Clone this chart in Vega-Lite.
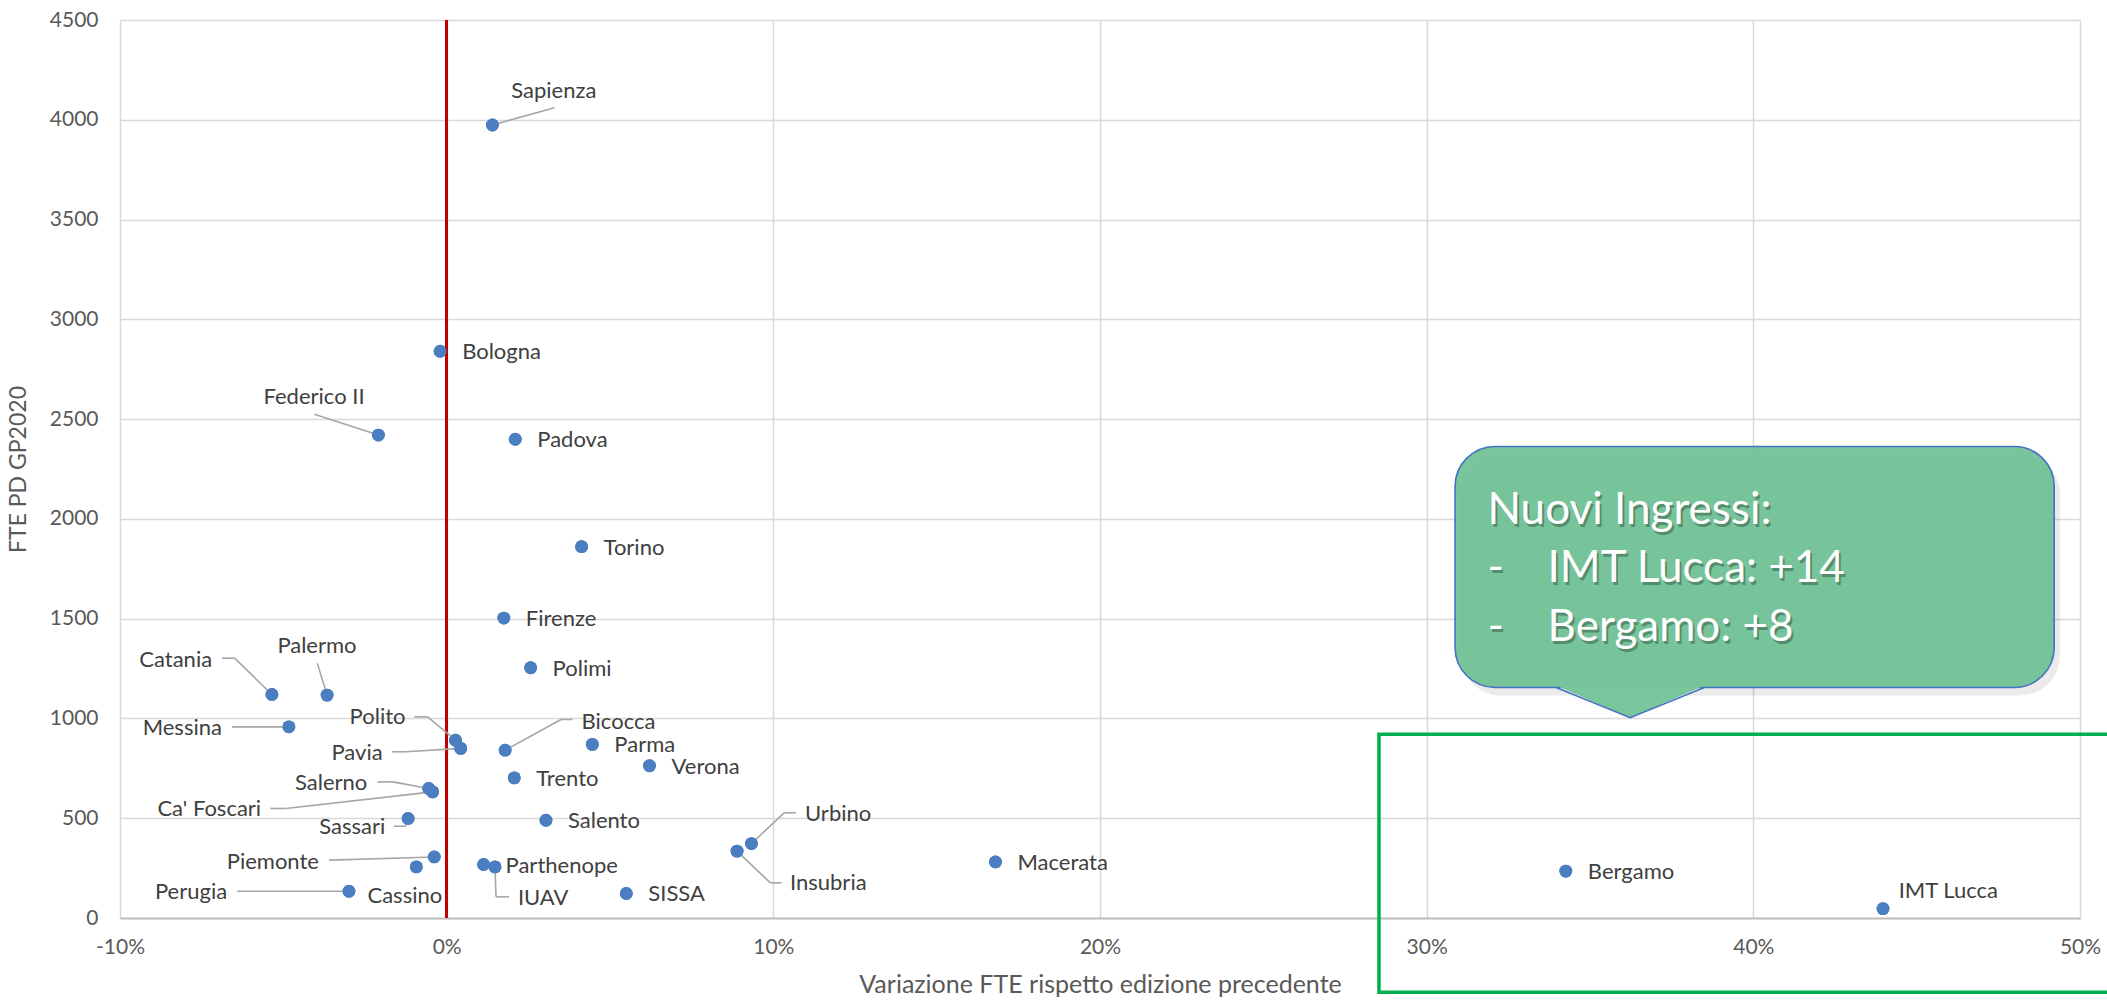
{
  "$schema": "https://vega.github.io/schema/vega-lite/v6.json",
  "autosize": {"type": "none"},
  "padding": {"left": 120, "top": 20, "right": 27, "bottom": 83},
  "width": 1960,
  "height": 898,
  "background": "white",
  "config": {"view": {"stroke": null}, "font": "Lato", "text": {"font": "Lato"},
    "axis": {"grid": true, "gridColor": "#D9D9D9", "gridWidth": 1.5, "ticks": false,
      "labelFontSize": 21, "labelColor": "#595959", "labelFont": "Lato", "labelFlush": false,
      "titleFont": "Lato", "titleFontSize": 24, "titleFontWeight": "normal", "titleColor": "#595959"}},
  "data": {"values": [
    {"name": "Sapienza", "var": 0.0140, "fte": 3974, "lx": 0.0328, "ly": 4145, "side": "middle", "bx": 0.0330, "by": 4060, "ex": 0.0330, "ey": 4060},
    {"name": "Bologna", "var": -0.0020, "fte": 2840},
    {"name": "Federico II", "var": -0.0209, "fte": 2420, "lx": -0.0406, "ly": 2611, "side": "middle", "bx": -0.0405, "by": 2524, "ex": -0.0405, "ey": 2524},
    {"name": "Padova", "var": 0.0210, "fte": 2399},
    {"name": "Torino", "var": 0.0413, "fte": 1861},
    {"name": "Firenze", "var": 0.0175, "fte": 1503},
    {"name": "Polimi", "var": 0.0257, "fte": 1254},
    {"name": "Catania", "var": -0.0535, "fte": 1120, "lx": -0.0718, "ly": 1292, "side": "end", "bx": -0.0649, "by": 1302, "ex": -0.0688, "ey": 1302},
    {"name": "Palermo", "var": -0.0366, "fte": 1117, "lx": -0.0397, "ly": 1363, "side": "middle", "bx": -0.0396, "by": 1276, "ex": -0.0396, "ey": 1276},
    {"name": "Messina", "var": -0.0483, "fte": 958, "lx": -0.0688, "ly": 953, "side": "end", "bx": -0.0657, "by": 958, "ex": -0.0657, "ey": 958},
    {"name": "Polito", "var": 0.0027, "fte": 891, "lx": -0.0126, "ly": 1005, "side": "end", "bx": -0.0058, "by": 1008, "ex": -0.0099, "ey": 1008},
    {"name": "Pavia", "var": 0.0043, "fte": 850, "lx": -0.0196, "ly": 828, "side": "end", "bx": -0.0126, "by": 833, "ex": -0.0168, "ey": 833},
    {"name": "Bicocca", "var": 0.0179, "fte": 841, "lx": 0.0413, "ly": 983, "side": "start", "bx": 0.0350, "by": 995, "ex": 0.0385, "ey": 995},
    {"name": "Parma", "var": 0.0446, "fte": 870},
    {"name": "Verona", "var": 0.0621, "fte": 763},
    {"name": "Trento", "var": 0.0207, "fte": 702},
    {"name": "Salerno", "var": -0.0055, "fte": 649, "lx": -0.0243, "ly": 677, "side": "end", "bx": -0.0165, "by": 682, "ex": -0.0212, "ey": 682},
    {"name": "Ca' Foscari", "var": -0.0043, "fte": 632, "lx": -0.0568, "ly": 544, "side": "end", "bx": -0.0493, "by": 549, "ex": -0.0540, "ey": 549},
    {"name": "Sassari", "var": -0.0118, "fte": 499, "lx": -0.0188, "ly": 457, "side": "end", "bx": -0.0126, "by": 460, "ex": -0.0162, "ey": 460},
    {"name": "Salento", "var": 0.0304, "fte": 490},
    {"name": "Urbino", "var": 0.0933, "fte": 373, "lx": 0.1097, "ly": 520, "side": "start", "bx": 0.1033, "by": 527, "ex": 0.1070, "ey": 527},
    {"name": "Insubria", "var": 0.0889, "fte": 335, "lx": 0.1051, "ly": 173, "side": "start", "bx": 0.0991, "by": 176, "ex": 0.1025, "ey": 176},
    {"name": "Piemonte", "var": -0.0038, "fte": 306, "lx": -0.0391, "ly": 281, "side": "end", "bx": -0.0360, "by": 290, "ex": -0.0360, "ey": 290},
    {"name": "Macerata", "var": 0.1680, "fte": 281},
    {"name": "Parthenope", "var": 0.0113, "fte": 268},
    {"name": "IUAV", "var": 0.0148, "fte": 256, "lx": 0.0218, "ly": 101, "side": "start", "bx": 0.0151, "by": 106, "ex": 0.0191, "ey": 106},
    {"name": "Cassino", "var": -0.0093, "fte": 256, "lx": -0.0128, "ly": 109, "side": "middle"},
    {"name": "Perugia", "var": -0.0299, "fte": 134, "lx": -0.0672, "ly": 128, "side": "end", "bx": -0.0641, "by": 134, "ex": -0.0641, "ey": 134},
    {"name": "SISSA", "var": 0.0550, "fte": 123},
    {"name": "Bergamo", "var": 0.3426, "fte": 235},
    {"name": "IMT Lucca", "var": 0.4397, "fte": 47, "lx": 0.4445, "ly": 136, "side": "start"}
  ]},
  "layer": [
    {
      "mark": {"type": "circle", "size": 165, "fill": "#4A7EC0", "opacity": 1},
      "encoding": {
        "x": {"field": "var", "type": "quantitative",
          "scale": {"domain": [-0.1, 0.5], "nice": false, "zero": false},
          "axis": {"values": [-0.1, 0, 0.1, 0.2, 0.3, 0.4, 0.5],
            "labelExpr": "(datum.value < -0.0001 ? '-' : '') + format(abs(datum.value), '.0%')",
            "domain": true, "domainColor": "#BFBFBF", "domainWidth": 2,
            "labelPadding": 18,
            "title": "Variazione FTE rispetto edizione precedente", "titleFontSize": 25, "titlePadding": 15}},
        "y": {"field": "fte", "type": "quantitative",
          "scale": {"domain": [0, 4500], "nice": false},
          "axis": {"values": [0, 500, 1000, 1500, 2000, 2500, 3000, 3500, 4000, 4500], "format": "d",
            "domain": false, "labelPadding": 22,
            "title": "FTE PD GP2020", "titleFontSize": 23, "titlePadding": 19}}
      }
    },
    {
      "mark": {"type": "rule", "stroke": "#C00000", "strokeWidth": 2},
      "encoding": {"x": {"datum": 0, "type": "quantitative"}}
    },
    {
      "transform": [{"filter": "isValid(datum.ex)"}],
      "mark": {"type": "rule", "stroke": "#A6A6A6", "strokeWidth": 1.6},
      "encoding": {
        "x": {"field": "var", "type": "quantitative"},
        "y": {"field": "fte", "type": "quantitative"},
        "x2": {"field": "bx"}, "y2": {"field": "by"}
      }
    },
    {
      "transform": [{"filter": "isValid(datum.ex)"}],
      "mark": {"type": "rule", "stroke": "#A6A6A6", "strokeWidth": 1.6},
      "encoding": {
        "x": {"field": "bx", "type": "quantitative"},
        "y": {"field": "by", "type": "quantitative"},
        "x2": {"field": "ex"}, "y2": {"field": "ey"}
      }
    },
    {
      "mark": {"type": "circle", "size": 165, "fill": "#4A7EC0", "opacity": 1},
      "encoding": {
        "x": {"field": "var", "type": "quantitative"},
        "y": {"field": "fte", "type": "quantitative"}
      }
    },
    {
      "transform": [{"filter": "!isValid(datum.lx)"}],
      "mark": {"type": "text", "align": "left", "baseline": "middle", "dx": 22, "dy": 1, "fontSize": 22, "fill": "#404040", "font": "Lato"},
      "encoding": {
        "x": {"field": "var", "type": "quantitative"},
        "y": {"field": "fte", "type": "quantitative"},
        "text": {"field": "name"}
      }
    },
    {
      "transform": [{"filter": "datum.side === 'start'"}],
      "mark": {"type": "text", "align": "left", "baseline": "middle", "fontSize": 22, "fill": "#404040", "font": "Lato"},
      "encoding": {
        "x": {"field": "lx", "type": "quantitative"},
        "y": {"field": "ly", "type": "quantitative"},
        "text": {"field": "name"}
      }
    },
    {
      "transform": [{"filter": "datum.side === 'end'"}],
      "mark": {"type": "text", "align": "right", "baseline": "middle", "fontSize": 22, "fill": "#404040", "font": "Lato"},
      "encoding": {
        "x": {"field": "lx", "type": "quantitative"},
        "y": {"field": "ly", "type": "quantitative"},
        "text": {"field": "name"}
      }
    },
    {
      "transform": [{"filter": "datum.side === 'middle'"}],
      "mark": {"type": "text", "align": "center", "baseline": "middle", "fontSize": 22, "fill": "#404040", "font": "Lato"},
      "encoding": {
        "x": {"field": "lx", "type": "quantitative"},
        "y": {"field": "ly", "type": "quantitative"},
        "text": {"field": "name"}
      }
    },
    {
      "data": {"values": [{"x1": 0.3105, "x2": 0.4939, "y1": 1115, "y2": 2323}]},
      "mark": {"type": "rect", "fill": "#000000", "fillOpacity": 0.08, "cornerRadius": 40},
      "encoding": {
        "x": {"field": "x1", "type": "quantitative"},
        "x2": {"field": "x2"},
        "y": {"field": "y1", "type": "quantitative"},
        "y2": {"field": "y2"}
      }
    },
    {
      "data": {"values": [{"x1": 0.3087, "x2": 0.4921, "y1": 1155, "y2": 2363}]},
      "mark": {"type": "rect", "fill": "#6ABF91", "fillOpacity": 0.9, "stroke": "#4472C4", "strokeWidth": 1.6, "cornerRadius": 40},
      "encoding": {
        "x": {"field": "x1", "type": "quantitative"},
        "x2": {"field": "x2"},
        "y": {"field": "y1", "type": "quantitative"},
        "y2": {"field": "y2"}
      }
    },
    {
      "data": {"values": [
        {"px": 0.3392, "py": 1168, "base": 1168},
        {"px": 0.3623, "py": 1004, "base": 1168},
        {"px": 0.3854, "py": 1168, "base": 1168}
      ]},
      "mark": {"type": "area", "fill": "#79C59C", "opacity": 1, "interpolate": "linear"},
      "encoding": {
        "x": {"field": "px", "type": "quantitative"},
        "y": {"field": "py", "type": "quantitative"},
        "y2": {"field": "base"}
      }
    },
    {
      "data": {"values": [
        {"px": 0.3396, "py": 1155, "k": 1},
        {"px": 0.3623, "py": 1004, "k": 2},
        {"px": 0.3850, "py": 1155, "k": 3}
      ]},
      "mark": {"type": "line", "stroke": "#4472C4", "strokeWidth": 1.6, "interpolate": "linear"},
      "encoding": {
        "x": {"field": "px", "type": "quantitative"},
        "y": {"field": "py", "type": "quantitative"},
        "order": {"field": "k"}
      }
    },
    {
      "data": {"values": [
        {"t": "Nuovi Ingressi:", "tx": 0.3186, "ty": 2041},
        {"t": "-", "tx": 0.3186, "ty": 1748},
        {"t": "IMT Lucca: +14", "tx": 0.3370, "ty": 1748},
        {"t": "-", "tx": 0.3186, "ty": 1454},
        {"t": "Bergamo: +8", "tx": 0.3370, "ty": 1454}
      ]},
      "mark": {"type": "text", "align": "left", "baseline": "middle", "fontSize": 44, "font": "Lato", "fill": "#000000", "opacity": 0.28, "dx": 2, "dy": 3},
      "encoding": {
        "x": {"field": "tx", "type": "quantitative"},
        "y": {"field": "ty", "type": "quantitative"},
        "text": {"field": "t"}
      }
    },
    {
      "data": {"values": [
        {"t": "Nuovi Ingressi:", "tx": 0.3186, "ty": 2041},
        {"t": "-", "tx": 0.3186, "ty": 1748},
        {"t": "IMT Lucca: +14", "tx": 0.3370, "ty": 1748},
        {"t": "-", "tx": 0.3186, "ty": 1454},
        {"t": "Bergamo: +8", "tx": 0.3370, "ty": 1454}
      ]},
      "mark": {"type": "text", "align": "left", "baseline": "middle", "fontSize": 44, "font": "Lato", "fill": "#FFFFFF"},
      "encoding": {
        "x": {"field": "tx", "type": "quantitative"},
        "y": {"field": "ty", "type": "quantitative"},
        "text": {"field": "t"}
      }
    },
    {
      "data": {"values": [{"x1": 0.2854, "x2": 0.5100, "y1": -372, "y2": 921}]},
      "mark": {"type": "rect", "filled": false, "fill": null, "stroke": "#00B050", "strokeWidth": 3.5},
      "encoding": {
        "x": {"field": "x1", "type": "quantitative"},
        "x2": {"field": "x2"},
        "y": {"field": "y1", "type": "quantitative"},
        "y2": {"field": "y2"}
      }
    }
  ]
}
